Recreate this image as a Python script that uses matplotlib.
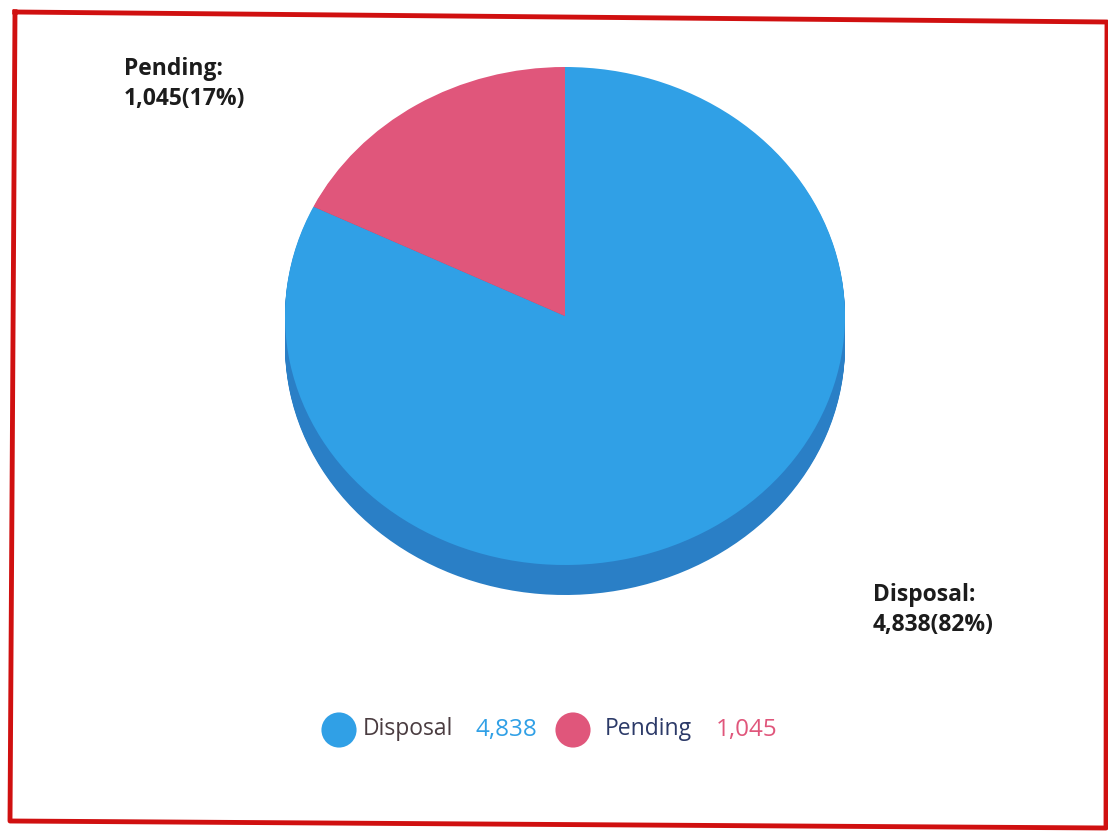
import matplotlib.pyplot as plt
from matplotlib.transforms import Affine2D
import numpy as np

# Data
labels = ['Disposal', 'Pending']
values = [4838, 1045]
top_colors = ['#30a0e6', '#e0567b']
side_colors = ['#2a7fc6', '#b8415f']
legend_text_colors = ['#4a3c40', '#2c3a68']

total = sum(values)
pcts = [int(100 * v / total) for v in values]

fig = plt.figure(figsize=(11.08, 8.31), dpi=100)
ax = fig.add_axes([0, 0, 1, 1])
ax.set_xlim(0, 1108)
ax.set_ylim(831, 0)
ax.axis('off')

# red frame (scanned, slightly tilted)
ax.plot([15, 1107, 1106, 10, 15], [12, 22, 828, 821, 12], color='#d01010', lw=3.5)

# pie geometry (pixels)
cx, cy, rx, ry, depth = 565, 316, 280, 249, 30

# side of the 3d pie: stack of darker copies
for d in np.arange(depth, 0, -1):
    wedges, _ = ax.pie(values, colors=side_colors, startangle=90, counterclock=False,
                       radius=1, center=(0, 0), frame=False)
    for w in wedges:
        w.set_transform(Affine2D().scale(rx, -ry).translate(cx, cy + d) + ax.transData)
        w.set_linewidth(0)

# top face (Disposal clockwise from 12 o'clock, Pending fills the rest)
wedges, _ = ax.pie(values, colors=top_colors, startangle=90, counterclock=False,
                   radius=1, center=(0, 0), frame=False)
for w in wedges:
    w.set_transform(Affine2D().scale(rx, -ry).translate(cx, cy) + ax.transData)
    w.set_linewidth(0)

ax.set_xlim(0, 1108)
ax.set_ylim(831, 0)
ax.set_aspect('auto')

# slice labels
font = 'Open Sans'
ax.text(124, 84, f'{labels[1]}:\n{values[1]:,}({pcts[1]}%)', fontsize=16.5,
        fontweight='bold', family=font, color='#1c1c1c', va='center', ha='left',
        linespacing=1.3)
ax.text(873, 610, f'{labels[0]}:\n{values[0]:,}({pcts[0]}%)', fontsize=16.5,
        fontweight='bold', family=font, color='#1c1c1c', va='center', ha='left',
        linespacing=1.3)

# legend
circle_x = [339, 573]
name_x = [363, 605]
value_x = [476, 716]
for i in range(len(labels)):
    ax.scatter(circle_x[i], 730, s=640, color=top_colors[i], edgecolors='none', zorder=5)
    ax.text(name_x[i], 729, labels[i], fontsize=16.5, family=font,
            color=legend_text_colors[i], va='center', ha='left')
    ax.text(value_x[i], 730, f'{values[i]:,}', fontsize=17.5, family=font,
            color=top_colors[i], va='center', ha='left')

fig.savefig('out.png', dpi=100)
